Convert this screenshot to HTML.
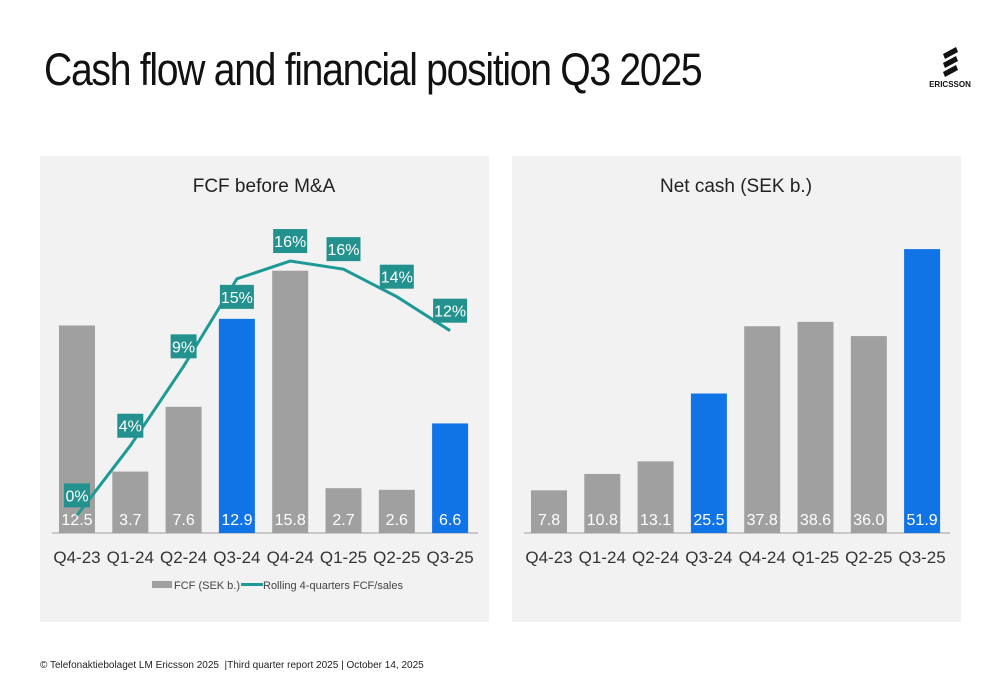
<!DOCTYPE html>
<html><head><meta charset="utf-8"><style>
body{margin:0;width:1000px;height:685px;background:#fff;font-family:"Liberation Sans",sans-serif;overflow:hidden;position:relative}
.t{position:absolute;left:44px;top:44px;font-size:45px;color:#111;letter-spacing:-1.5px;transform:scaleX(.87);transform-origin:left}
.foot{position:absolute;left:40px;top:660px;font-size:10px;color:#222}
</style></head><body>
<div class="t">Cash flow and financial position Q3 2025</div>
<svg style="position:absolute;left:925px;top:45px" width="50" height="45">
<g fill="#111"><path d="M18 9 L31 2 L33 7 L20 14Z"/><path d="M18 18 L31 11 L33 16 L20 23Z"/><path d="M18 27 L31 20 L33 25 L20 32Z"/></g>
<text x="25" y="42" font-size="8" font-weight="bold" text-anchor="middle" fill="#111">ERICSSON</text></svg>
<svg id="c" width="1000" height="685" style="position:absolute;left:0;top:0"></svg>
<div class="foot">© Telefonaktiebolaget LM Ericsson 2025 &nbsp;|Third quarter report 2025 | October 14, 2025</div>
<script>
const categories=["Q4-23","Q1-24","Q2-24","Q3-24","Q4-24","Q1-25","Q2-25","Q3-25"];
const fcfValues=[12.5,3.7,7.6,12.9,15.8,2.7,2.6,6.6];
const ratioValues=[0.1,4.4,9.3,14.7,15.8,15.3,13.6,11.5];
const ratioLabels=["0%","4%","9%","15%","16%","16%","14%","12%"];
const netCashValues=[7.8,10.8,13.1,25.5,37.8,38.6,36.0,51.9];
const highlight=[3,7];
const NS="http://www.w3.org/2000/svg",svg=document.getElementById('c');
function el(t,a,p){const e=document.createElementNS(NS,t);for(const k in a)e.setAttribute(k,a[k]);(p||svg).appendChild(e);return e;}
function txt(x,y,s,sz,fill,anchor){const e=el('text',{x:x,y:y,'font-size':sz,fill:fill,'text-anchor':anchor||'middle'});e.textContent=s;return e;}
const base=533;
function panel(x0,title,vals,scale,name){
 const p=el('rect',{x:x0,y:156,width:449,height:466,fill:'#f2f2f2'});
 
 
 const tt=txt(x0+224,192,title,19,'#222');
 
 
 const xs=i=>x0+37+i*53.3;
 const ax=el('line',{x1:x0+12,x2:x0+438,y1:base,y2:base,stroke:'#c8c8c8','stroke-width':2});
 
 
 vals.forEach((v,i)=>{
  const h=v*scale,b=el('rect',{x:xs(i)-18,y:base-h,width:36,height:h,fill:highlight.includes(i)?'#1174e6':'#a0a0a0'});
  
  
  const l=txt(xs(i),525,v.toFixed(1),16,'#fff');
  
  
  const c=txt(xs(i),563,categories[i],17,'#333');
  
  
 });
 return xs;
}
const xl=panel(40,"FCF before M&A",fcfValues,16.6,'fcf');
panel(512,"Net cash (SEK b.)",netCashValues,5.47,'netcash');
const ly=v=>517-v*16.2;
const pts=ratioValues.map((v,i)=>xl(i)+','+ly(v)).join(' ');
const line=el('polyline',{points:pts,fill:'none',stroke:'#1e9a96','stroke-width':3});


ratioValues.forEach((v,i)=>{
 const s=ratioLabels[i],w=s.length>2?34:26,cy=ly(v)+(i==3?18:-20);
 const r=el('rect',{x:xl(i)-w/2,y:cy-12,width:w,height:24,fill:'#23918e'});
 
 
 const t=txt(xl(i),cy+6,s,16,'#fff');
 
 
});
const lg1=el('rect',{x:152,y:581,width:20,height:7,fill:'#a0a0a0'});


const lt1=txt(174,589,"FCF (SEK b.)",11,'#444','start');


const lg2=el('line',{x1:241,x2:263,y1:584.5,y2:584.5,stroke:'#1e9a96','stroke-width':3});


const lt2=txt(263,589,"Rolling 4-quarters FCF/sales",11,'#444','start');


</script>
</body></html>
